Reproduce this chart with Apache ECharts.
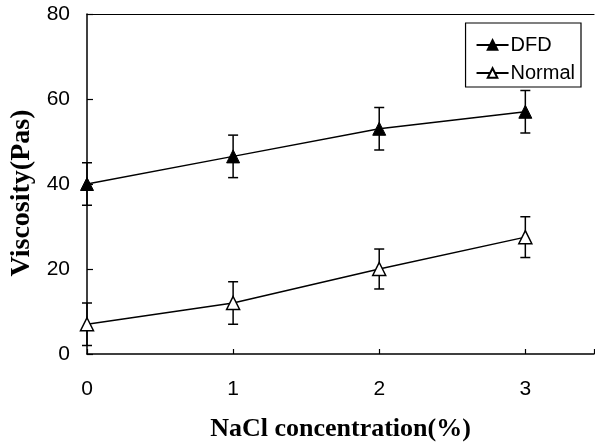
<!DOCTYPE html>
<html>
<head>
<meta charset="utf-8">
<script src="https://cdn.jsdelivr.net/npm/echarts@6/dist/echarts.min.js"></script>
<style>html,body{margin:0;padding:0;background:#fff}#c{width:595px;height:443px}</style>
</head>
<body>
<div id="c"></div>
<script>
const nacl = [0, 1, 2, 3];
const dfd = [40, 46.5, 53, 57];
const dfdErr = [5, 5, 5, 5];
const normal = [7, 12, 20, 27.5];
const normalErr = [5, 5, 4.7, 4.8];
const xTicks = [0, 1, 2, 3];
const yTicks = [0, 20, 40, 60, 80];

const chart = echarts.init(document.getElementById('c'), null, {renderer: 'canvas'});

function errData(vals, errs) {
  return nacl.map((x, i) => [x, vals[i] - errs[i], vals[i] + errs[i]]);
}
function errRender(params, api) {
  const x = api.value(0);
  const lo = api.coord([x, api.value(1)]);
  const hi = api.coord([x, api.value(2)]);
  const w = 5;
  const style = {stroke: '#000', lineWidth: 1.5};
  return {
    type: 'group',
    children: [
      {type: 'line', shape: {x1: lo[0], y1: lo[1], x2: hi[0], y2: hi[1]}, style},
      {type: 'line', shape: {x1: lo[0] - w, y1: lo[1], x2: lo[0] + w, y2: lo[1]}, style},
      {type: 'line', shape: {x1: hi[0] - w, y1: hi[1], x2: hi[0] + w, y2: hi[1]}, style}
    ]
  };
}

const option = {
  animation: false,
  backgroundColor: '#fff',
  grid: {left: 87, right: 1, top: 14, bottom: 89, containLabel: false, outerBoundsMode: 'none'},
  legend: {
    orient: 'vertical',
    right: 14, top: 23,
    data: ['DFD', 'Normal'],
    borderColor: '#000', borderWidth: 1.2,
    padding: [12, 6, 4, 10],
    itemGap: 8,
    itemWidth: 32, itemHeight: 12,
    textStyle: {fontFamily: 'Liberation Sans, Arial', fontSize: 20, color: '#000', padding: [0, 0, 0, -3]}
  },
  xAxis: [{
    type: 'value', min: 0, max: 3.47, interval: 1,
    axisLine: {show: true, onZero: false, lineStyle: {color: '#000', width: 1.5}},
    axisTick: {show: true, inside: true, length: 5, lineStyle: {color: '#000', width: 1.2}},
    axisLabel: {
      margin: 25, fontFamily: 'Liberation Sans, Arial', fontSize: 21, color: '#000',
      formatter: v => xTicks.includes(v) ? String(v) : ''
    },
    splitLine: {show: false},
    name: 'NaCl concentration(%)', nameLocation: 'middle', nameGap: 62,
    nameTextStyle: {fontFamily: 'Liberation Serif, Times New Roman', fontWeight: 'bold', fontSize: 26, color: '#000'}
  }, {
    type: 'value', position: 'top', min: 0, max: 3.47,
    axisLine: {show: true, onZero: false, lineStyle: {color: '#000', width: 1.2}},
    axisTick: {show: false}, axisLabel: {show: false}, splitLine: {show: false}
  }],
  yAxis: {
    type: 'value', min: 0, max: 80, interval: 20,
    axisLine: {show: true, onZero: false, lineStyle: {color: '#000', width: 1.5}},
    axisTick: {show: true, inside: true, length: 6, lineStyle: {color: '#000', width: 1.2}},
    axisLabel: {
      margin: 17, fontFamily: 'Liberation Sans, Arial', fontSize: 21, color: '#000',
      formatter: v => yTicks.includes(v) ? String(v) : ''
    },
    splitLine: {show: false},
    name: 'Viscosity(Pas)', nameLocation: 'middle', nameGap: 50,
    nameTextStyle: {fontFamily: 'Liberation Serif, Times New Roman', fontWeight: 'bold', fontSize: 28, color: '#000', padding: [0, 18, 0, 0]}
  },
  series: [
    {
      name: 'DFD', type: 'line',
      data: nacl.map((x, i) => [x, dfd[i]]),
      symbol: 'triangle', symbolSize: 13,
      lineStyle: {color: '#000', width: 1.5},
      itemStyle: {color: '#000', borderColor: '#000', borderWidth: 1},
      z: 3
    },
    {
      name: 'Normal', type: 'line',
      data: nacl.map((x, i) => [x, normal[i]]),
      symbol: 'triangle', symbolSize: 13,
      lineStyle: {color: '#000', width: 1.5},
      itemStyle: {color: '#fff', borderColor: '#000', borderWidth: 1.5},
      z: 3
    },
    {type: 'custom', data: errData(dfd, dfdErr), renderItem: errRender, z: 2, silent: true},
    {type: 'custom', data: errData(normal, normalErr), renderItem: errRender, z: 2, silent: true}
  ]
};
chart.setOption(option);
</script>
</body>
</html>
